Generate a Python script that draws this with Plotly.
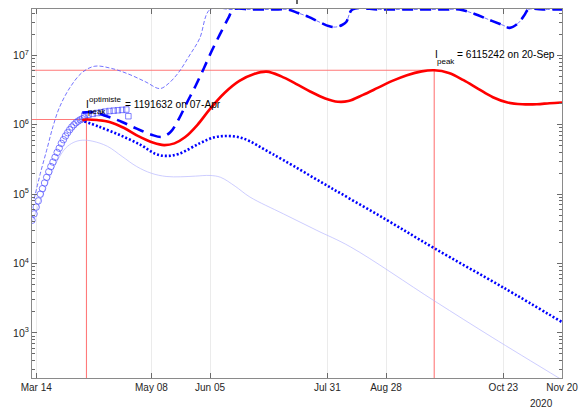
import math
import plotly.graph_objects as go

# ---------------- data ----------------
TOP = 4.6e7  # saturation value of the upper scenarios

red_dates = ["2020-04-05", "2020-04-07", "2020-04-12", "2020-04-18", "2020-04-25", "2020-05-02",
             "2020-05-09", "2020-05-14", "2020-05-19", "2020-05-24", "2020-05-30", "2020-06-05",
             "2020-06-12", "2020-06-19", "2020-06-26", "2020-07-02", "2020-07-09", "2020-07-16",
             "2020-07-23", "2020-07-30", "2020-08-05", "2020-08-10", "2020-08-17", "2020-08-24",
             "2020-08-31", "2020-09-07", "2020-09-14", "2020-09-20", "2020-09-27", "2020-10-04",
             "2020-10-11", "2020-10-18", "2020-10-25", "2020-11-01", "2020-11-08", "2020-11-14",
             "2020-11-20"]
red_vals = [1.16e6, 1.19e6, 1.17e6, 1.10e6, 9.0e5, 6.8e5,
            5.5e5, 5.1e5, 5.4e5, 6.6e5, 1.0e6, 1.7e6,
            2.9e6, 4.3e6, 5.4e6, 5.85e6, 5.0e6, 3.9e6,
            3.0e6, 2.4e6, 2.15e6, 2.2e6, 2.7e6, 3.4e6,
            4.3e6, 5.2e6, 5.9e6, 6.115e6, 5.6e6, 4.4e6,
            3.3e6, 2.5e6, 2.1e6, 1.98e6, 1.98e6, 2.05e6,
            2.1e6]

upper_dates = ["2020-04-05", "2020-04-10", "2020-04-17", "2020-04-24", "2020-05-01", "2020-05-08",
               "2020-05-13", "2020-05-17", "2020-05-21", "2020-05-25", "2020-05-29", "2020-06-02",
               "2020-06-06", "2020-06-10", "2020-06-14", "2020-06-16"]
upper_vals = [1.5e6, 1.52e6, 1.32e6, 1.1e6, 8.8e5, 7.2e5,
              6.7e5, 7.8e5, 1.2e6, 2.1e6, 3.6e6, 6.5e6,
              1.2e7, 2.1e7, 3.6e7, TOP]

sat_dates = ["2020-06-25", "2020-07-05", "2020-07-12", "2020-07-17", "2020-07-22", "2020-07-27",
             "2020-08-01", "2020-08-04", "2020-08-07", "2020-08-09", "2020-08-12", "2020-08-25",
             "2020-09-10", "2020-09-25", "2020-10-02", "2020-10-09", "2020-10-17", "2020-10-23",
             "2020-10-26", "2020-10-30", "2020-11-02", "2020-11-04", "2020-11-12", "2020-11-20"]
sat_vals = [TOP, TOP, TOP, 4.1e7, 3.6e7, 3.05e7,
            2.63e7, 2.57e7, 2.75e7, 3.04e7, TOP, TOP,
            TOP, TOP, TOP, 4.0e7, 3.2e7, 2.72e7,
            2.5e7, 2.9e7, 3.8e7, TOP, TOP, TOP]

thin_dates = ["2020-03-13", "2020-03-16", "2020-03-19", "2020-03-22", "2020-03-25", "2020-03-30",
              "2020-04-05", "2020-04-11", "2020-04-19", "2020-04-27", "2020-05-05", "2020-05-12",
              "2020-05-16", "2020-05-21", "2020-05-26", "2020-05-31", "2020-06-05", "2020-06-15"]
thin_vals = [8.5e4, 2.0e5, 4.3e5, 9.4e5, 1.75e6, 3.4e6,
             5.7e6, 7.0e6, 6.5e6, 5.4e6, 4.2e6, 3.33e6,
             3.9e6, 5.7e6, 9.8e6, 1.75e7, TOP, TOP]

dot_dates = ["2020-04-06", "2020-04-13", "2020-04-23", "2020-05-03", "2020-05-10", "2020-05-15",
             "2020-05-21", "2020-05-31", "2020-06-07", "2020-06-13", "2020-06-19", "2020-06-24",
             "2020-07-01", "2020-07-10", "2020-08-01", "2020-08-28", "2020-09-20", "2020-10-23",
             "2020-11-20"]
dot_vals = [1.12e6, 9.4e5, 7.1e5, 5.1e5, 3.8e5, 3.56e5,
            3.8e5, 5.4e5, 6.6e5, 6.9e5, 6.6e5, 5.8e5,
            4.4e5, 3.1e5, 1.27e5, 4.3e4, 1.66e4, 4.5e3,
            1.43e3]

light_dates = ["2020-03-12", "2020-03-16", "2020-03-20", "2020-03-24", "2020-03-28", "2020-04-01",
               "2020-04-05", "2020-04-10", "2020-04-17", "2020-04-24", "2020-05-01", "2020-05-08",
               "2020-05-15", "2020-05-22", "2020-05-29", "2020-06-05", "2020-06-10", "2020-06-17",
               "2020-06-24", "2020-07-10", "2020-07-26", "2020-08-11", "2020-09-20", "2020-10-18",
               "2020-11-20"]
light_vals = [4.0e4, 8.0e4, 1.6e5, 3.0e5, 4.6e5, 5.6e5,
              6.0e5, 5.8e5, 4.9e5, 3.5e5, 2.5e5, 2.0e5,
              1.8e5, 1.78e5, 1.82e5, 1.86e5, 1.75e5, 1.3e5,
              9.1e4, 5.2e4, 3.0e4, 1.74e4, 2.9e3, 8.5e2,
              2.1e2]

obs_dates = ["2020-03-%02d" % d for d in range(12, 32)] + ["2020-04-%02d" % d for d in range(1, 7)]
obs_vals = [4.2e4, 5.2e4, 6.5e4, 8.0e4, 1.0e5, 1.2e5, 1.45e5, 1.75e5, 2.1e5, 2.5e5,
            2.9e5, 3.4e5, 4.0e5, 4.6e5, 5.4e5, 6.1e5, 6.9e5, 7.7e5, 8.5e5, 9.3e5,
            1.0e6, 1.07e6, 1.13e6, 1.18e6, 1.22e6, 1.26e6]

sq_dates = ["2020-04-06", "2020-04-08", "2020-04-10", "2020-04-12", "2020-04-14", "2020-04-16",
            "2020-04-18", "2020-04-20", "2020-04-22", "2020-04-24", "2020-04-26", "2020-04-27"]
sq_vals = [1.36e6, 1.40e6, 1.44e6, 1.48e6, 1.52e6, 1.55e6,
           1.58e6, 1.60e6, 1.62e6, 1.64e6, 1.66e6, 1.33e6]

peak_opt_date, peak_opt_val = "2020-04-07", 1191632
peak_date, peak_val = "2020-09-20", 6115242

x_tick_vals = ["2020-03-14", "2020-05-08", "2020-06-05", "2020-07-31", "2020-08-28", "2020-10-23", "2020-11-20"]
x_tick_text = ["Mar 14", "May 08", "Jun 05", "Jul 31", "Aug 28", "Oct 23", "Nov 20"]
y_tick_vals = [1e3, 1e4, 1e5, 1e6, 1e7]
y_tick_text = ["10<sup>3</sup>", "10<sup>4</sup>", "10<sup>5</sup>", "10<sup>6</sup>", "10<sup>7</sup>"]

X_START, X_END = "2020-03-12", "2020-11-20"
Y_LO, Y_HI = 2.349, 7.670

# ---------------- figure ----------------
FONT = "Liberation Sans, Arial, Helvetica, sans-serif"
AX = "#262626"
TICKC = "#6a6a6a"
TXT = 10.2
fig = go.Figure()

# red guide lines at the two peaks
low = 10 ** (Y_LO - 0.5)
for pd_, pv in [(peak_opt_date, peak_opt_val), (peak_date, peak_val)]:
    fig.add_trace(go.Scatter(x=[X_START, pd_, pd_], y=[pv, pv, low], mode="lines",
                             line=dict(color="#ff7a7a", width=1.1)))

fig.add_trace(go.Scatter(x=light_dates, y=light_vals, mode="lines", line_shape="spline",
                         line=dict(color="#b8b8ff", width=0.7)))
fig.add_trace(go.Scatter(x=thin_dates + sat_dates, y=thin_vals + sat_vals, mode="lines", line_shape="spline",
                         line=dict(color="#5050ff", width=0.8, dash="4px,2px")))
fig.add_trace(go.Scatter(x=obs_dates, y=obs_vals, mode="markers",
                         marker=dict(symbol="circle-open", size=6.5, color="rgba(70,70,255,0.75)",
                                     line=dict(width=0.9))))
fig.add_trace(go.Scatter(x=sq_dates, y=sq_vals, mode="markers",
                         marker=dict(symbol="square-open", size=5.5, color="rgba(70,70,255,0.75)",
                                     line=dict(width=0.9))))
fig.add_trace(go.Scatter(x=upper_dates + sat_dates, y=upper_vals + sat_vals, mode="lines", line_shape="spline",
                         line=dict(color="#0000ff", width=2.6, dash="11px,7px")))
fig.add_trace(go.Scatter(x=dot_dates, y=dot_vals, mode="lines", line_shape="spline",
                         line=dict(color="#0000ff", width=2.6, dash="2px,2px")))
fig.add_trace(go.Scatter(x=red_dates, y=red_vals, mode="lines", line_shape="spline",
                         line=dict(color="#ff0000", width=2.6)))

# minor ticks of the log axis (on an overlaid, label-less axis)
minor_vals = [m * 10 ** e for e in range(2, 8) for m in range(2, 10)]
fig.add_trace(go.Scatter(x=[X_START], y=[1e5], yaxis="y2", mode="markers",
                         marker=dict(opacity=0)))

def ann(x, y, text, size, xshift, yshift):
    fig.add_annotation(x=x, y=math.log10(y), xref="x", yref="y", text=text, showarrow=False,
                       xanchor="left", yanchor="middle", xshift=xshift, yshift=yshift,
                       borderpad=0, font=dict(family=FONT, size=size, color="#000000"))

ann(peak_opt_date, peak_opt_val, "I", TXT, -1, 15)
ann(peak_opt_date, peak_opt_val, "optimiste", 8, 2, 20)
ann(peak_opt_date, peak_opt_val, "peak", 8, 1, 8)
ann(peak_opt_date, peak_opt_val, "= %d on 07-Apr" % peak_opt_val, TXT, 38, 15)
ann(peak_date, peak_val, "I", TXT, 0, 16)
ann(peak_date, peak_val, "peak", 8, 2, 9)
ann(peak_date, peak_val, "= %d on 20-Sep" % peak_val, TXT, 22, 16)

fig.add_annotation(x=0.962, y=-0.068, xref="paper", yref="paper", text="2020", showarrow=False,
                   xanchor="center", yanchor="middle", font=dict(family=FONT, size=10, color=AX))
# remnant of the (cut-off) title
fig.add_shape(type="line", xref="paper", yref="paper", x0=0.5, x1=0.5, y0=1.0136, y1=1.03,
              line=dict(color="#000000", width=1.2))

fig.update_layout(
    width=585, height=411, showlegend=False, hovermode=False,
    margin=dict(l=32, r=23, t=9, b=33, autoexpand=False),
    paper_bgcolor="white", plot_bgcolor="white",
    font=dict(family=FONT, size=10, color=AX),
    xaxis=dict(type="date", range=[X_START, X_END], tickvals=x_tick_vals, ticktext=x_tick_text,
               showgrid=True, gridcolor="#ebebeb", gridwidth=1, zeroline=False,
               showline=True, linecolor="#8a8a8a", linewidth=1, mirror="ticks",
               ticks="inside", ticklen=5, tickcolor=TICKC, tickfont=dict(size=10, color=AX)),
    yaxis=dict(type="log", range=[Y_LO, Y_HI], tickvals=y_tick_vals, ticktext=y_tick_text,
               showgrid=False, zeroline=False,
               showline=True, linecolor="#8a8a8a", linewidth=1, mirror="ticks",
               ticks="inside", ticklen=5, tickcolor=TICKC, tickfont=dict(size=10.5, color=AX)),
    yaxis2=dict(type="log", range=[Y_LO, Y_HI], overlaying="y", side="left", tickvals=minor_vals,
                showticklabels=False, showgrid=False, zeroline=False, showline=False,
                ticks="inside", ticklen=3, tickcolor=TICKC, mirror="ticks"),
)

fig.write_html("out.html", config={"displayModeBar": False, "staticPlot": True},
               post_script="document.body.style.margin='0';document.body.style.overflow='hidden';")
